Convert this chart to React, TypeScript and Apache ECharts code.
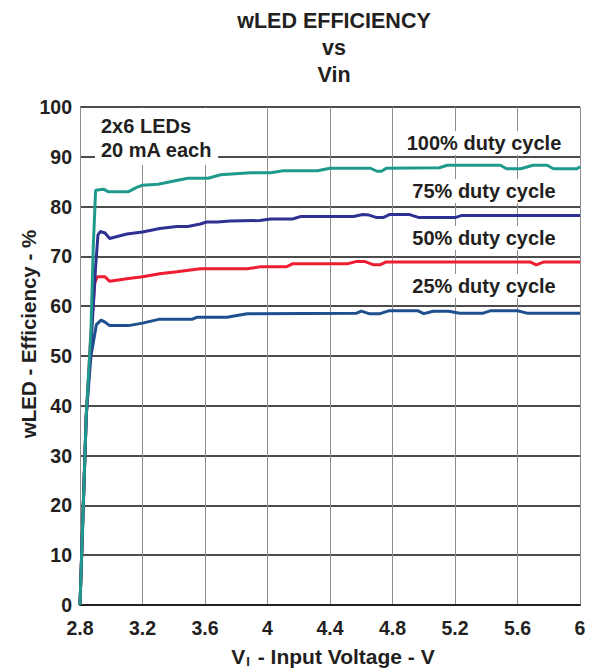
import React, { useEffect, useRef } from "react";
import * as echarts from "echarts";

const FONT = "'Liberation Sans', Arial, Helvetica, sans-serif";
const INK = "#231F20";

const titleLines = ["wLED EFFICIENCY", "vs", "Vin"];
const xTicks = { min: 2.8, max: 6, interval: 0.4 };
const yTicks = { min: 0, max: 100, interval: 10 };

const seriesNames = ["100% duty cycle", "75% duty cycle", "50% duty cycle", "25% duty cycle"];
const seriesColors = ["#1E9A8D", "#2E3192", "#EE1D2F", "#1F4F8E"];

const duty100: [number, number][] = [
  [2.8, 0], [2.84, 38], [2.87, 55], [2.885, 72], [2.9, 83.3], [2.95, 83.5], [2.98, 83.0],
  [3.11, 83.0], [3.16, 83.8], [3.2, 84.3], [3.3, 84.5], [3.41, 85.2], [3.49, 85.7], [3.62, 85.7],
  [3.7, 86.4], [3.89, 86.8], [4.02, 86.8], [4.1, 87.2], [4.32, 87.2], [4.4, 87.7], [4.66, 87.7],
  [4.7, 87.1], [4.73, 87.1], [4.76, 87.7], [5.1, 87.8], [5.15, 88.3], [5.49, 88.3], [5.53, 87.6],
  [5.62, 87.6], [5.7, 88.3], [5.79, 88.3], [5.83, 87.6], [5.98, 87.6], [6.0, 88.0],
];
const duty75: [number, number][] = [
  [2.8, 0], [2.84, 38], [2.87, 52], [2.9, 68], [2.915, 74.3], [2.93, 75.0], [2.96, 74.7],
  [2.99, 73.6], [3.05, 74.1], [3.1, 74.5], [3.2, 74.9], [3.31, 75.6], [3.42, 76.0], [3.49, 76.0],
  [3.57, 76.5], [3.61, 76.9], [3.68, 76.9], [3.76, 77.1], [3.95, 77.2], [4.02, 77.5], [4.16, 77.5],
  [4.21, 78.0], [4.55, 78.0], [4.61, 78.4], [4.65, 78.3], [4.7, 77.8], [4.74, 77.8], [4.78, 78.4],
  [4.91, 78.4], [4.97, 77.8], [5.2, 77.8], [5.24, 78.2], [6.0, 78.2],
];
const duty50: [number, number][] = [
  [2.8, 0], [2.84, 38], [2.875, 57], [2.895, 64.8], [2.91, 65.9], [2.96, 65.9], [2.99, 65.0],
  [3.1, 65.5], [3.2, 65.9], [3.31, 66.5], [3.42, 66.9], [3.57, 67.5], [3.87, 67.5], [3.95, 67.9],
  [4.12, 67.9], [4.16, 68.5], [4.51, 68.5], [4.57, 69.0], [4.62, 69.0], [4.68, 68.3], [4.72, 68.3],
  [4.76, 68.9], [5.68, 68.9], [5.72, 68.3], [5.77, 68.9], [6.0, 68.9],
];
const duty25: [number, number][] = [
  [2.8, 0], [2.84, 38], [2.87, 50], [2.905, 56.3], [2.935, 57.2], [2.96, 56.8], [2.99, 56.1],
  [3.11, 56.1], [3.2, 56.6], [3.31, 57.4], [3.52, 57.4], [3.55, 57.8], [3.74, 57.8], [3.87, 58.5],
  [4.57, 58.6], [4.6, 59.0], [4.65, 58.5], [4.72, 58.5], [4.78, 59.1], [4.96, 59.1], [5.0, 58.5],
  [5.06, 59.0], [5.16, 59.0], [5.23, 58.6], [5.38, 58.6], [5.43, 59.1], [5.6, 59.1], [5.66, 58.6],
  [6.0, 58.6],
];
const seriesData = [duty100, duty75, duty50, duty25];

const noteLines = ["2x6 LEDs", "20 mA each"];
const yAxisName = "wLED - Efficiency - %";

export default function App() {
  const ref = useRef<HTMLDivElement>(null);
  useEffect(() => {
    document.body.style.margin = "0";
    const chart = echarts.init(ref.current!, null, { renderer: "svg" });
    const labelY = [143, 191, 238, 286];
    const option: any = {
      animation: false,
      backgroundColor: "#fff",
      title: {
        text: titleLines.join("\n"),
        left: 329,
        top: 2,
        textAlign: "center",
        textStyle: { fontFamily: FONT, fontWeight: "bold", fontSize: 21.5, lineHeight: 27, color: INK },
      },
      grid: { left: 80, right: 15, top: 107, bottom: 65 },
      xAxis: {
        type: "value",
        min: xTicks.min,
        max: xTicks.max,
        interval: xTicks.interval,
        axisLine: { lineStyle: { color: INK, width: 2 } },
        axisTick: { show: false },
        splitLine: { show: true, lineStyle: { color: "#8c8c8c", width: 1 } },
        axisLabel: {
          formatter: (v: number) => String(Math.round(v * 10) / 10),
          fontFamily: FONT, fontWeight: "bold", fontSize: 19.5, color: INK, margin: 13,
        },
      },
      yAxis: {
        type: "value",
        min: yTicks.min,
        max: yTicks.max,
        interval: yTicks.interval,
        axisLine: { show: true, lineStyle: { color: "#8c8c8c", width: 1 } },
        axisTick: { show: false },
        splitLine: { show: true, lineStyle: { color: "#111", width: 1.6 } },
        axisLabel: { fontFamily: FONT, fontWeight: "bold", fontSize: 19.5, color: INK, margin: 8 },
      },
      series: seriesData.map((d, i) => ({
        type: "line",
        name: seriesNames[i],
        data: d,
        showSymbol: false,
        symbol: "none",
        lineStyle: { color: seriesColors[i], width: 3 },
        z: 5 - i,
      })),
      graphic: [
        ...seriesNames.map((n, i) => ({
          type: "text",
          x: 484,
          y: labelY[i],
          z: 20,
          style: {
            text: n,
            align: "center",
            verticalAlign: "middle",
            fontFamily: FONT, fontWeight: "bold", fontSize: 20, fill: INK,
            backgroundColor: "#fff",
            padding: [2, 5],
          },
        })),
        {
          type: "text",
          x: 95,
          y: 108,
          z: 20,
          style: {
            text: noteLines.join("\n"),
            align: "left",
            verticalAlign: "top",
            fontFamily: FONT, fontWeight: "bold", fontSize: 20, lineHeight: 24, fill: INK,
            backgroundColor: "#fff",
            padding: [6, 6, 3, 6],
          },
        },
        {
          type: "text",
          x: 28,
          y: 334,
          rotation: Math.PI / 2,
          z: 20,
          style: {
            text: yAxisName,
            align: "center",
            verticalAlign: "middle",
            fontFamily: FONT, fontWeight: "bold", fontSize: 20.5, fill: INK,
          },
        },
        {
          type: "text",
          x: 333,
          y: 656,
          z: 20,
          style: {
            text: "{n|V}{s|I}{n| - Input Voltage - V}",
            align: "center",
            verticalAlign: "middle",
            fill: INK,
            rich: {
              n: { fontFamily: FONT, fontWeight: "bold", fontSize: 21, fill: INK, lineHeight: 24 },
              s: { fontFamily: FONT, fontWeight: "bold", fontSize: 13, fill: INK, padding: [11, 2, 0, 1], lineHeight: 22 },
            },
          },
        },
      ],
    };
    chart.setOption(option);
    return () => chart.dispose();
  }, []);
  return <div ref={ref} style={{ width: 595, height: 670 }} />;
}
